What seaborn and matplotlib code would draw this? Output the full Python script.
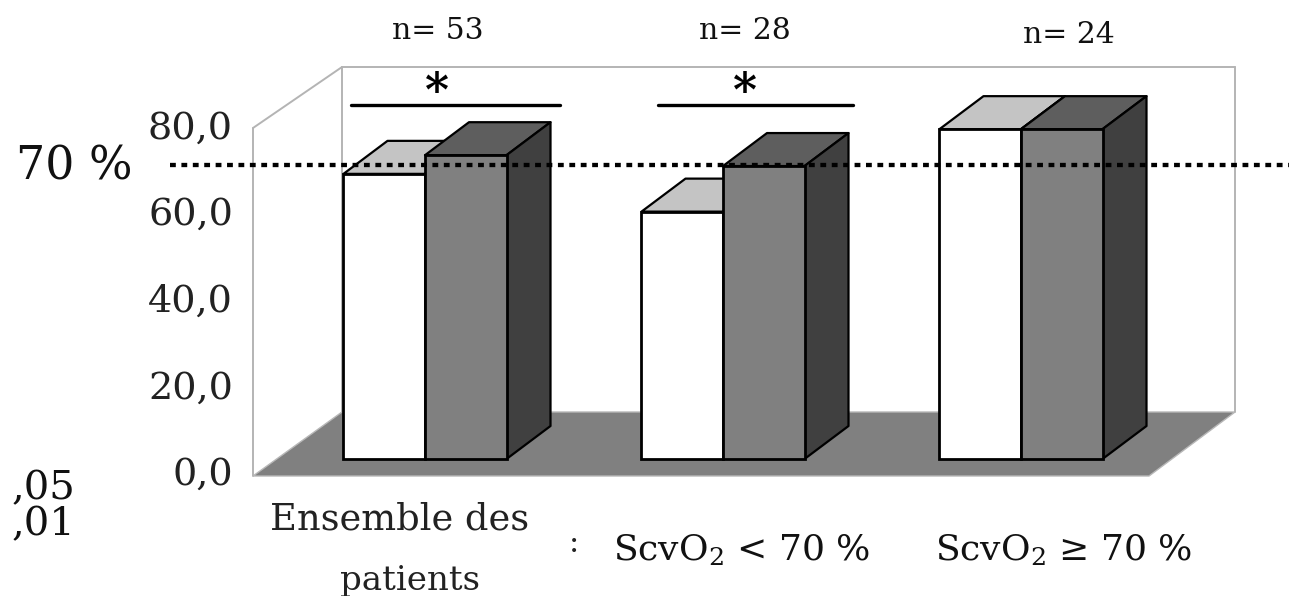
import matplotlib
matplotlib.use("Agg")
import matplotlib.pyplot as plt
import pandas as pd
import seaborn as sns
from matplotlib.patches import Polygon

# Oxygen saturation per patient group, before and after treatment
groups = ["Ensemble", "Basse", "Haute"]
before = [65.7, 57.0, 76.0]
after = [70.0, 67.5, 76.0]
sizes = ["n= 53", "n= 28", "n= 24"]
tick_values = [0, 20, 40, 60, 80]
tick_labels = ["0,0", "20,0", "40,0", "60,0", "80,0"]

W, H = 1289, 596
PX_PER_UNIT = 4.34
BASE_PX = 459
GROUP_PX = 298
FIRST_PX = 425

sns.set_theme(style="white")
plt.rcParams["font.family"] = ["DejaVu Serif"]
plt.rcParams["mathtext.fontset"] = "dejavuserif"

fig = plt.figure(figsize=(W / 100, H / 100), dpi=100)
ax = fig.add_axes([0, 0, 1, 1])

df = pd.DataFrame({
    "groupe": groups * 2,
    "valeur": before + after,
    "temps": ["avant"] * 3 + ["après"] * 3,
})
sns.barplot(data=df, x="groupe", y="valeur", hue="temps", hue_order=["avant", "après"],
            palette=["#ffffff", "#808080"], width=0.547, gap=0, saturation=1,
            legend=False, edgecolor="black", linewidth=2, ax=ax, zorder=6)
bar_groups = [list(c) for c in ax.containers]

ax.set_xlim(-FIRST_PX / GROUP_PX, (W - FIRST_PX) / GROUP_PX)
ax.set_ylim((BASE_PX - H) / PX_PER_UNIT, BASE_PX / PX_PER_UNIT)
ax.axis("off")


def dx(px):
    return (px - FIRST_PX) / GROUP_PX


def dy(px):
    return (BASE_PX - px) / PX_PER_UNIT


def pts(*xy):
    return [(dx(x), dy(y)) for x, y in xy]


# Chart box: floor and wall outlines behind the bars
ax.add_patch(Polygon(pts((253, 476), (342, 412), (1235, 412), (1149, 476)),
                     closed=True, fc="#808080", ec="#b8b8b8", lw=1, zorder=1))
wall = "#b4b4b4"
for a, b in [((253, 128), (342, 67)), ((342, 67), (1235, 67)), ((1235, 67), (1235, 412)),
             ((342, 67), (342, 412)), ((253, 128), (253, 476))]:
    (x0, y0), (x1, y1) = pts(a, b)
    ax.plot([x0, x1], [y0, y1], color=wall, lw=1.4, zorder=1.5, solid_capstyle="round")

# Extrude each bar: top and side faces follow the bar rectangle
depth_x = 44 / GROUP_PX
depth_y = 33 / PX_PER_UNIT
for is_after, bars in enumerate(bar_groups):
    for bar in bars:
        x0, w, h = bar.get_x(), bar.get_width(), bar.get_height()
        top_col = "#5e5e5e" if is_after else "#c4c4c4"
        side_col = "#404040"
        z = 5 if is_after else 3
        bar.set_zorder(z + 1)
        ax.add_patch(Polygon([(x0, h), (x0 + depth_x, h + depth_y),
                              (x0 + w + depth_x, h + depth_y), (x0 + w, h)],
                             closed=True, fc=top_col, ec="black", lw=1.6, joinstyle="round", zorder=z))
        ax.add_patch(Polygon([(x0 + w, 0), (x0 + w + depth_x, depth_y),
                              (x0 + w + depth_x, h + depth_y), (x0 + w, h)],
                             closed=True, fc=side_col, ec="black", lw=1.6, joinstyle="round", zorder=z))

# 70 % reference line over everything
ax.plot([dx(170), dx(1289)], [dy(165), dy(165)], color="black", lw=3.1,
        dashes=(1.35, 1.3), dash_capstyle="butt", zorder=9)
ax.text(dx(133), dy(179), "70 %", ha="right", va="baseline", fontsize=33, color="#111111", zorder=10)

# Value axis labels along the front edge
for v, lab in zip(tick_values, tick_labels):
    ax.text(dx(233), dy(485 - v * 4.33), lab, ha="right", va="baseline", fontsize=27.5, color="#222222")

# Significance bars
for x0, x1, xs in [(351, 560, 437), (658, 853, 745)]:
    ax.plot([dx(x0), dx(x1)], [dy(105), dy(105)], color="black", lw=2.4, zorder=8)
    ax.text(dx(xs), dy(106), "*", ha="center", va="baseline", fontsize=33, fontweight="bold",
            color="black", zorder=8)

# Group sizes and group names
for xc, yb, lab in zip([438, 745, 1069], [39, 39, 43], sizes):
    ax.text(dx(xc), dy(yb), lab, ha="center", va="baseline", fontsize=21.5, color="#111111")
ax.text(dx(400), dy(530), "Ensemble des", ha="center", va="baseline", fontsize=26.5, color="#222222")
ax.text(dx(410), dy(590), "patients", ha="center", va="baseline", fontsize=24.5, color="#222222")
ax.text(dx(574), dy(552), ":", ha="center", va="baseline", fontsize=22, color="#222222")
ax.text(dx(742), dy(561), r"ScvO$_2$ < 70 %", ha="center", va="baseline", fontsize=26, color="#111111")
ax.text(dx(1064), dy(561), "ScvO$_2$ ≥ 70 %", ha="center", va="baseline", fontsize=26, color="#111111")

# Fragments of a side note at the left margin
ax.text(dx(75), dy(499), ",05", ha="right", va="baseline", fontsize=29, color="#111111")
ax.text(dx(75), dy(535), ",01", ha="right", va="baseline", fontsize=29, color="#111111")

fig.savefig("out.png", dpi=100)
